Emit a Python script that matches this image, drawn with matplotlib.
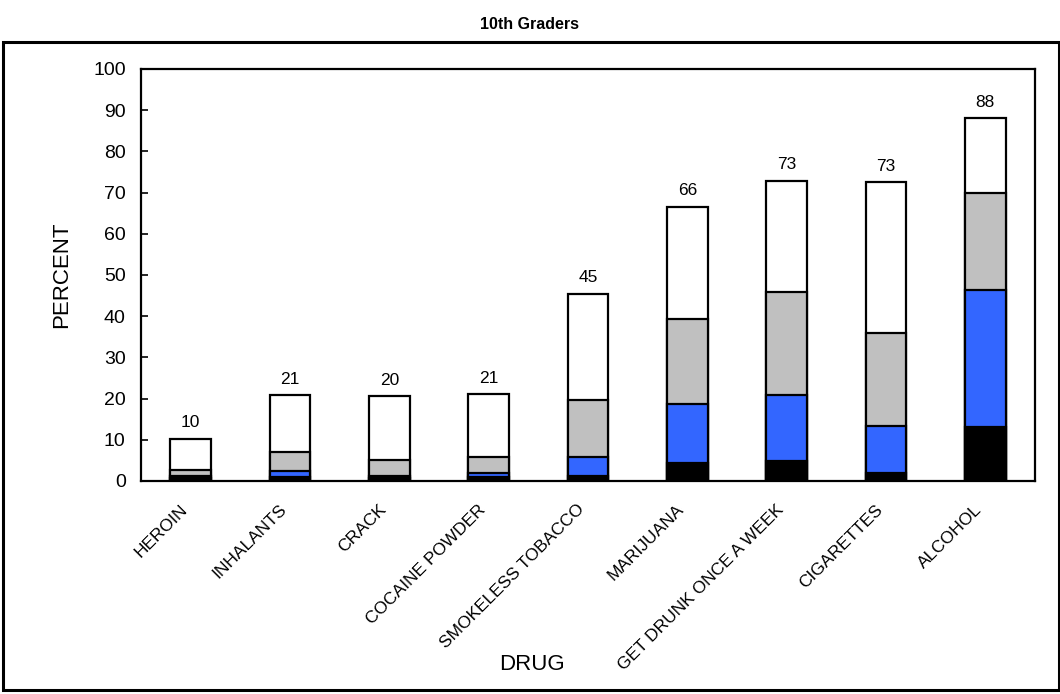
import matplotlib.pyplot as plt
from matplotlib.patches import Rectangle
from matplotlib.transforms import ScaledTranslation
import numpy as np

plt.rcParams['font.family'] = ['Liberation Sans', 'DejaVu Sans']

drugs = ['HEROIN', 'INHALANTS', 'CRACK', 'COCAINE POWDER', 'SMOKELESS TOBACCO',
         'MARIJUANA', 'GET DRUNK ONCE A WEEK', 'CIGARETTES', 'ALCOHOL']
# cumulative levels for each layer (percent)
lifetime = [10.3, 20.8, 20.5, 21.0, 45.4, 66.5, 72.8, 72.5, 88.0]
annual = [2.6, 7.0, 5.2, 5.9, 19.6, 39.4, 45.9, 35.9, 69.8]
month = [1.3, 2.4, 1.2, 2.0, 5.9, 18.6, 20.8, 13.3, 46.3]
daily = [0.8, 0.9, 0.6, 1.0, 1.2, 4.4, 4.8, 2.0, 13.0]
top_labels = ['10', '21', '20', '21', '45', '66', '73', '73', '88']

fig = plt.figure(figsize=(10.6, 6.94), dpi=100)
ax = fig.add_axes([0.133, 0.307, 0.8434, 0.5937])

x = np.arange(len(drugs))
w = 0.41
kw = dict(width=w, edgecolor='black', linewidth=1.6, zorder=2)
ax.bar(x, lifetime, color='white', **kw)
ax.bar(x, annual, color='#c0c0c0', **kw)
ax.bar(x, month, color='#3366ff', **kw)
ax.bar(x, daily, color='black', **kw)

for xi, v, t in zip(x, lifetime, top_labels):
    ax.text(xi, v + 2.1, t, ha='center', va='bottom', fontsize=12.5)

ax.set_xlim(-0.5, 8.5)
ax.set_ylim(0, 100)
ax.set_yticks(range(0, 101, 10))
ax.tick_params(axis='y', labelsize=14, length=5, width=1.2, direction='in',
               pad=11)
ax.tick_params(axis='x', length=0, pad=15)
ax.set_xticks(x)
ax.set_xticklabels(drugs, rotation=45, ha='right', va='top', fontsize=12.5,
                   rotation_mode='anchor')
shift = ScaledTranslation(-0.11, 0, fig.dpi_scale_trans)
for lab in ax.get_xticklabels():
    lab.set_transform(lab.get_transform() + shift)
for s in ax.spines.values():
    s.set_linewidth(1.6)

ax.set_ylabel('PERCENT', fontsize=16)
ax.yaxis.set_label_coords(-0.077, 0.5)
fig.text(0.502, 0.042, 'DRUG', ha='center', va='center', fontsize=16)
fig.text(0.5, 0.965, '10th Graders', ha='center', va='center', fontsize=11.5,
         fontweight='bold')

fig.patches.append(Rectangle((3 / 1060, 4 / 694), 1056 / 1060, 648 / 694,
                             transform=fig.transFigure, fill=False,
                             edgecolor='black', linewidth=2.2))

fig.savefig('out.png', dpi=100)
